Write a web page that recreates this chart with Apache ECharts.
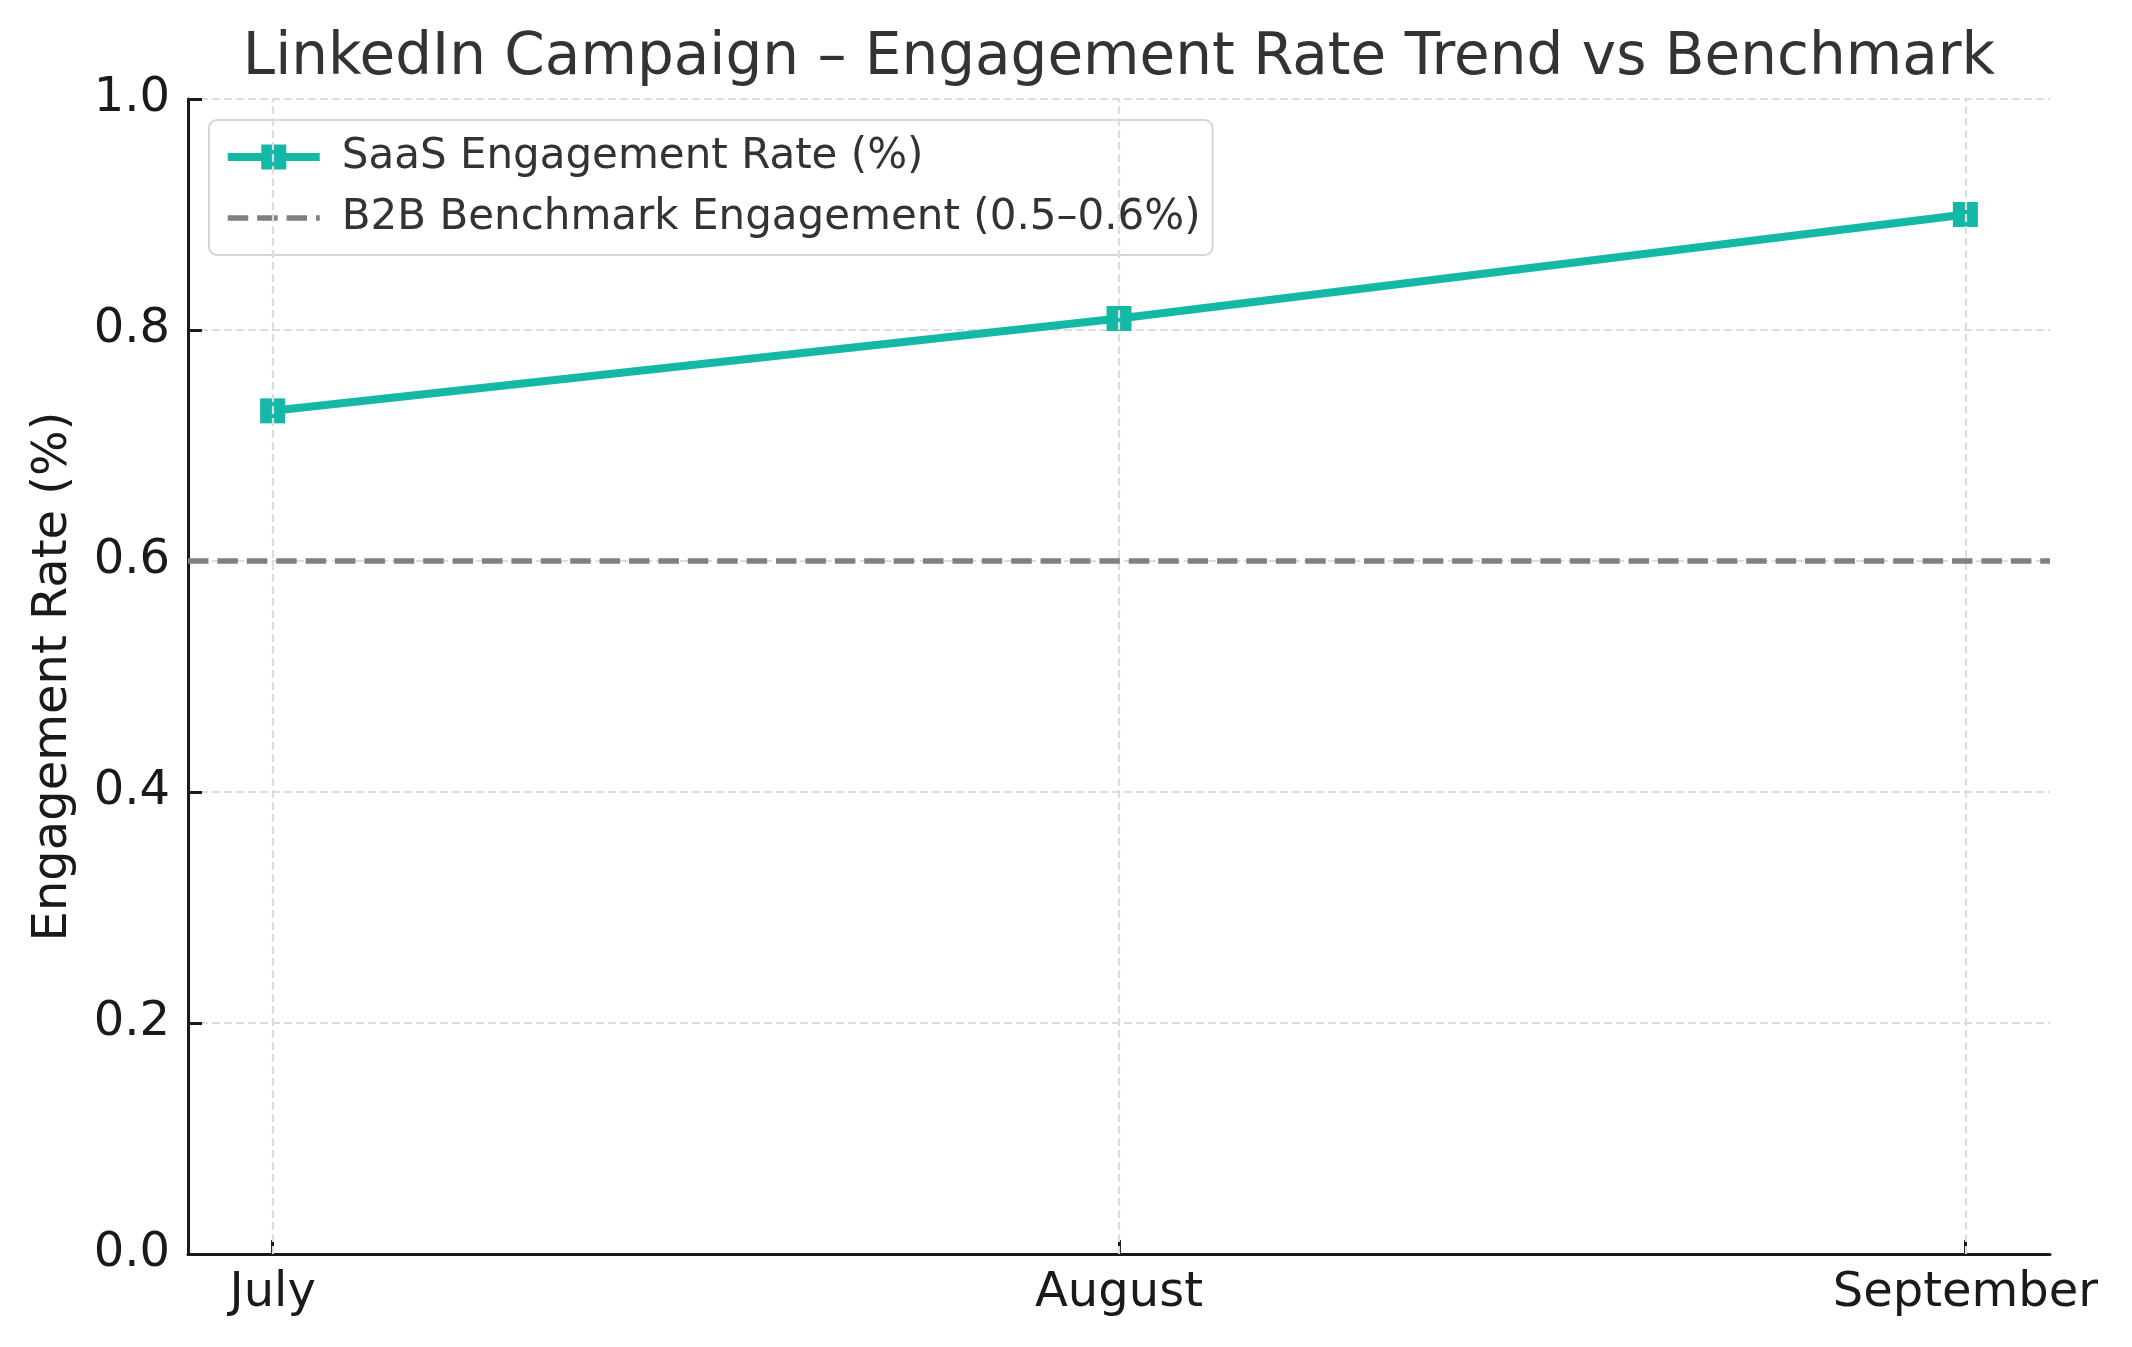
<!DOCTYPE html>
<html><head><meta charset="utf-8">
<script src="https://cdn.jsdelivr.net/npm/echarts@6/dist/echarts.min.js"></script>
<style>html,body{margin:0;padding:0;background:#fff}#c{width:2132px;height:1347px}</style>
</head><body><div id="c"></div>
<script>
const categories = ['July', 'August', 'September'];
const saasRate = [0.73, 0.81, 0.90];
const benchmarkRate = 0.6;
const yMin = 0, yMax = 1.0, yStep = 0.2;
const titleText = 'LinkedIn Campaign – Engagement Rate Trend vs Benchmark';
const seriesNames = ['SaaS Engagement Rate (%)', 'B2B Benchmark Engagement (0.5–0.6%)'];
const yAxisTitle = 'Engagement Rate (%)';

const catIdx = categories.map((c, i) => i);
const saasPoints = catIdx.map(i => [i, saasRate[i]]);
const font = 'DejaVu Sans';
const teal = '#14b8a6';
const gray = '#808080';
const ink = '#1a1a1a';
const gridColor = '#dddddd';
const benchStyle = {color: gray, width: 5.5, type: [20.5, 8.9]};
// legend glyph: thick line with a square marker in the middle
const lineMarkerIcon = 'path://M0,8.5H33.5V0H58.5V8.5H92V16.5H58.5V25H33.5V16.5H0Z';

const chart = echarts.init(document.getElementById('c'), null, {renderer: 'canvas'});
chart.setOption({
  animation: false,
  backgroundColor: '#ffffff',
  title: {
    text: titleText, left: 1119, top: 30, textAlign: 'center', padding: 0,
    textStyle: {fontFamily: font, fontSize: 58, fontWeight: 'normal', color: '#333333'}
  },
  legend: {
    data: [
      {name: seriesNames[0], icon: lineMarkerIcon, itemStyle: {color: teal, borderWidth: 0, opacity: 1}},
      {name: seriesNames[1], itemStyle: {opacity: 0, borderWidth: 0}, lineStyle: benchStyle}
    ],
    orient: 'vertical', left: 209, top: 120,
    padding: [16, 12, 16, 16], itemWidth: 92, itemHeight: 25, itemGap: 19,
    borderColor: '#d5d5d5', borderWidth: 2, borderRadius: 8,
    backgroundColor: 'rgba(255,255,255,0.8)',
    textStyle: {fontFamily: font, fontSize: 42, lineHeight: 42, color: '#333333', padding: [0, 0, 0, 17]}
  },
  grid: {left: 188, right: 82, top: 99, bottom: 93},
  xAxis: {
    type: 'value', min: -0.1, max: categories.length - 1 + 0.1,
    axisLine: {show: true, onZero: false, lineStyle: {color: ink, width: 3}},
    axisTick: {show: true, inside: true, length: 14, customValues: catIdx, lineStyle: {color: ink, width: 3}},
    axisLabel: {
      show: true, customValues: catIdx, margin: 16,
      formatter: v => categories[Math.round(v)] || '',
      fontFamily: font, fontSize: 48, color: ink
    },
    splitLine: {show: false}
  },
  yAxis: {
    type: 'value', min: yMin, max: yMax, interval: yStep,
    name: yAxisTitle, nameLocation: 'middle', nameGap: 110,
    nameTextStyle: {fontFamily: font, fontSize: 48, color: ink},
    axisLine: {show: true, onZero: false, lineStyle: {color: ink, width: 3}},
    axisTick: {show: true, inside: true, length: 14, lineStyle: {color: ink, width: 3}},
    axisLabel: {margin: 18, formatter: v => v.toFixed(1), fontFamily: font, fontSize: 48, color: ink},
    splitLine: {show: true, lineStyle: {color: gridColor, width: 2.2, type: [8, 4]}}
  },
  series: [
    {
      name: '_vgrid', type: 'line', data: [], z: 1, silent: true,
      markLine: {
        symbol: 'none', silent: true, label: {show: false},
        lineStyle: {color: gridColor, width: 2.2, type: [8, 4]},
        data: catIdx.map(i => ({xAxis: i}))
      }
    },
    {
      name: seriesNames[1], type: 'line', data: [], symbol: 'none', z: 2,
      lineStyle: benchStyle,
      itemStyle: {color: gray},
      markLine: {
        symbol: 'none', silent: true, label: {show: false},
        lineStyle: benchStyle,
        data: [{yAxis: benchmarkRate}]
      }
    },
    {
      name: seriesNames[0], type: 'line', z: 3,
      data: saasPoints,
      symbol: 'none',
      lineStyle: {color: teal, width: 8},
      itemStyle: {color: teal}
    },
    {
      name: '_saasMarkers', type: 'scatter', z: 4, silent: true,
      data: saasPoints,
      symbol: 'rect', symbolSize: 25,
      itemStyle: {color: teal, opacity: 1, borderWidth: 0}
    }
  ]
});
</script>
</body></html>
